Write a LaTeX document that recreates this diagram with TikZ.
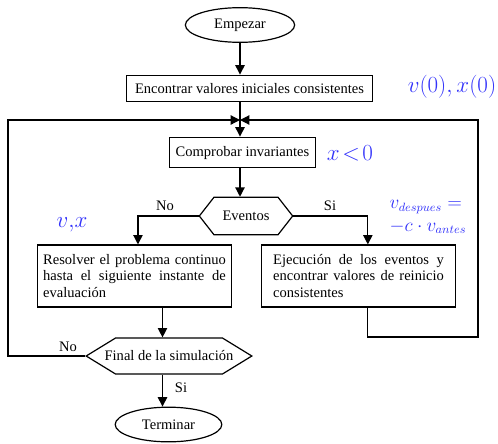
\documentclass[tikz,border=0pt]{standalone}
\usepackage{fontspec}
\setmainfont{Liberation Serif}
\usetikzlibrary{arrows.meta,shapes.geometric,shapes.symbols}
\definecolor{mathblue}{RGB}{50,50,250}
\tikzset{
  base/.style={draw,line width=0.9pt,font=\fontsize{10.9}{12.5}\selectfont,inner sep=0pt},
  term/.style={base,ellipse,minimum width=81pt,minimum height=26pt},
  proc/.style={base,rectangle},
  cond/.style={base,signal,signal to=west and east},
  conn/.style={line width=0.9pt,-{Triangle[length=7pt,width=7pt]}},
  lab/.style={font=\fontsize{10.9}{12.5}\selectfont},
  eqn/.style={text=mathblue,font=\fontsize{16}{19}\selectfont,inner sep=0pt}
}
\begin{document}
\begin{tikzpicture}[x=0.75pt,y=-0.75pt]
\useasboundingbox (0,0) rectangle (498,443);
% nodos del diagrama
\node[term,minimum width=82pt] (start) at (240,25) {Empezar};
\node[proc,minimum width=184pt,minimum height=20pt] (init) at (249.5,88.5) {Encontrar valores iniciales consistentes};
\node[proc,minimum width=110pt,minimum height=23pt] (check) at (242.5,152.5) {Comprobar invariantes};
\node[cond,minimum width=70pt,minimum height=28pt,signal pointer angle=104] (ev) at (246,216) {Eventos};
\node[proc,minimum width=146pt,minimum height=46.5pt,text width=137pt,align=justify] (solve) at (134.5,276)
  {Resolver el problema continuo\linebreak hasta el siguiente instante de\linebreak evaluación};
\node[proc,minimum width=146pt,minimum height=46.5pt,text width=128pt,align=justify] (exec) at (358.5,276)
  {Ejecución de los eventos y\linebreak encontrar valores de reinicio\linebreak consistentes};
\node[cond,inner xsep=-8.2pt,minimum height=27pt,signal pointer angle=63] (final) at (169,356) {Final de la simulación};
\node[term,minimum width=80pt] (stop) at (168.5,424.5) {Terminar};
\coordinate (jn) at (240,120);
\coordinate (lc) at (8,120);
\coordinate (rb) at (478,337);
\coordinate (rc) at (478,120);
% conexiones
\draw[conn] (start) -- (start |- init.north);
\draw[conn] (start |- init.south) -- (start |- check.north);
\draw[conn] (start |- check.south) -- (start |- ev.north);
\draw[conn] (ev.west) -| ([xshift=2.6pt]solve.north);
\draw[conn] (ev.east) -| ([xshift=7pt]exec.north);
\draw[conn] ([xshift=21pt]solve.south) -- ([xshift=21pt]solve.south |- final.north);
\draw[conn] ([xshift=21pt]solve.south |- final.south) -- ([xshift=21pt]solve.south |- stop.north);
\draw[conn] (final.west) -| (lc) -- (jn);
\draw[conn] ([xshift=7pt]exec.south) |- (rb) -- (rc) -- (jn);
% etiquetas
\node[lab] (no1) at (165,206) {No};
\node[lab] (si1) at (330,206) {Si};
\node[lab] (no2) at (68,347) {No};
\node[lab] (si2) at (181,388) {Si};
\node[eqn] (e0) at (452,87) {$v(0),x(0)$};
\node[eqn] (e1) at (350,153) {$x\!<\!0$};
\node[eqn] (e2) at (72,225) {$v,\!x$};
\node[eqn,font=\fontsize{13.5}{15}\selectfont,align=left] (e3) at (428,217) {$v_{despues}=$\\[2pt]$-c\cdot v_{antes}$};
\end{tikzpicture}
\end{document}
